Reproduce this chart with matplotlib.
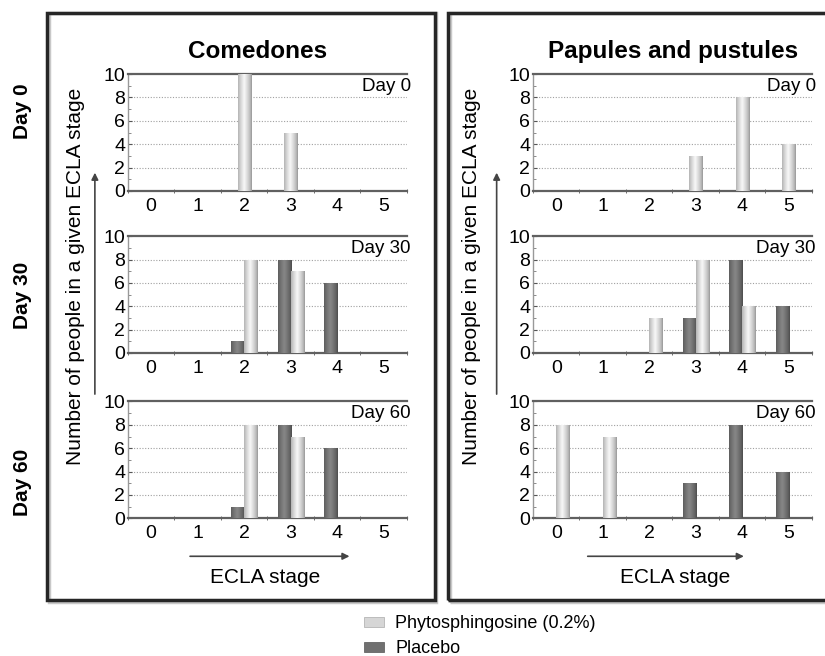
import numpy as np
import matplotlib
matplotlib.use("Agg")
import matplotlib.pyplot as plt
from matplotlib.patches import Rectangle, Patch

plt.rcParams['font.family'] = ['Liberation Sans', 'DejaVu Sans']

# ECLA stages on the x axis
stages = [0, 1, 2, 3, 4, 5]
stage_labels = ['0', '1', '2', '3', '4', '5']
y_ticks = [0, 2, 4, 6, 8, 10]

# Comedones (number of people per stage)
com_d0_phyto = [0, 0, 10, 5, 0, 0]
com_d30_phyto = [0, 0, 8, 7, 0, 0]
com_d30_placebo = [0, 0, 1, 8, 6, 0]
com_d60_phyto = [0, 0, 8, 7, 0, 0]
com_d60_placebo = [0, 0, 1, 8, 6, 0]

# Papules and pustules
pap_d0_phyto = [0, 0, 0, 3, 8, 4]
pap_d30_phyto = [0, 0, 3, 8, 4, 0]
pap_d30_placebo = [0, 0, 0, 3, 8, 4]
pap_d60_phyto = [8, 7, 0, 0, 0, 0]
pap_d60_placebo = [0, 0, 0, 3, 8, 4]

day_names = ['Day 0', 'Day 30', 'Day 60']
panel_titles = ['Comedones', 'Papules and pustules']
series_names = ['Phytosphingosine (0.2%)', 'Placebo']

BAR_W = 0.28
PHYTO_EDGE = np.array([150, 150, 150]) / 255.0
PHYTO_MID = np.array([248, 248, 248]) / 255.0
PLAC_EDGE = np.array([75, 75, 75]) / 255.0
PLAC_MID = np.array([135, 135, 135]) / 255.0


def gradient_img(edge, mid):
    # horizontal shading like the old excel cylinder look
    t = np.linspace(0, 1, 40)
    prof = np.clip(1 - np.abs(t - 0.45) / 0.55, 0, 1) ** 0.7
    img = edge[None, :] * (1 - prof[:, None]) + mid[None, :] * prof[:, None]
    return img[None, :, :]


def shaded_bars(ax, x, vals, edge, mid):
    bars = ax.bar(x, vals, width=BAR_W, color=mid, edgecolor=edge * 0.9,
                  linewidth=0.5, zorder=3)
    img = gradient_img(edge, mid)
    for b in bars:
        if b.get_height() <= 0:
            continue
        im = ax.imshow(img, extent=(b.get_x(), b.get_x() + b.get_width(),
                                    0, b.get_height()),
                       aspect='auto', zorder=3.5, interpolation='bilinear')
        im.set_clip_path(b)
    return bars


def draw_axes(ax, phyto, placebo, day):
    x = np.array(stages)
    if placebo is None:
        shaded_bars(ax, x, phyto, PHYTO_EDGE, PHYTO_MID)
    else:
        shaded_bars(ax, x - BAR_W / 2, placebo, PLAC_EDGE, PLAC_MID)
        shaded_bars(ax, x + BAR_W / 2, phyto, PHYTO_EDGE, PHYTO_MID)
    ax.set_xlim(-0.5, 5.5)
    ax.set_ylim(0, 10)
    ax.set_xticks(stages)
    ax.set_xticklabels(stage_labels)
    ax.set_xticks(np.arange(-0.5, 6.0, 1.0), minor=True)
    ax.set_yticks(y_ticks)
    ax.set_yticks(np.arange(1, 10, 1), minor=True)
    ax.tick_params(axis='x', which='major', length=0, labelsize=14, pad=5)
    ax.tick_params(axis='x', which='minor', length=3, direction='inout',
                   color='#555555')
    ax.tick_params(axis='y', which='major', length=3, direction='in',
                   labelsize=14, pad=2, color='#555555')
    ax.tick_params(axis='y', which='minor', length=2, direction='in',
                   color='#777777')
    for yy in [2, 4, 6, 8]:
        ax.axhline(yy, color='#a0a0a0', lw=0.8, ls=(0, (1, 1.5)), zorder=1)
    ax.spines['right'].set_visible(False)
    ax.spines['top'].set_color('#606060')
    ax.spines['top'].set_linewidth(1.6)
    ax.spines['bottom'].set_color('#606060')
    ax.spines['bottom'].set_linewidth(1.6)
    ax.spines['left'].set_color('#999999')
    ax.spines['left'].set_linewidth(1.0)
    ax.text(1.015, 0.97, day, transform=ax.transAxes, ha='right', va='top',
            fontsize=13.5, zorder=5)


fig = plt.figure(figsize=(8.25, 6.56), dpi=100)

# the two framed panels (grey shadow + dark frame)
fig.patches.append(Rectangle((0.059, 0.083), 0.470, 0.897, transform=fig.transFigure,
                             fill=False, ec='#c8c8c8', lw=2.5))
fig.patches.append(Rectangle((0.057, 0.085), 0.470, 0.895, transform=fig.transFigure,
                             fill=False, ec='#262626', lw=2.5))
fig.patches.append(Rectangle((0.545, 0.083), 0.50, 0.897, transform=fig.transFigure,
                             fill=False, ec='#c8c8c8', lw=2.5))
fig.patches.append(Rectangle((0.543, 0.085), 0.50, 0.895, transform=fig.transFigure,
                             fill=False, ec='#262626', lw=2.5))

rows_bottom = [0.709, 0.462, 0.210]
row_h = 0.178
cols_left = [0.155, 0.646]
col_w = 0.338

data = [
    [(com_d0_phyto, None), (com_d30_phyto, com_d30_placebo), (com_d60_phyto, com_d60_placebo)],
    [(pap_d0_phyto, None), (pap_d30_phyto, pap_d30_placebo), (pap_d60_phyto, pap_d60_placebo)],
]

for c in range(2):
    for r in range(3):
        ax = fig.add_axes([cols_left[c], rows_bottom[r], col_w, row_h])
        draw_axes(ax, data[c][r][0], data[c][r][1], day_names[r])

# panel titles
fig.text(0.312, 0.921, panel_titles[0], ha='center', va='center',
         fontsize=17.5, fontweight='bold')
fig.text(0.816, 0.921, panel_titles[1], ha='center', va='center',
         fontsize=17.5, fontweight='bold')

# row labels on the far left
for yy, name in zip([0.831, 0.550, 0.264], day_names):
    fig.text(0.027, yy, name, rotation=90, ha='center', va='center',
             fontsize=15, fontweight='bold')

# y label + arrow in both panels
for xl, xa in [(0.091, 0.115), (0.572, 0.602)]:
    fig.text(xl, 0.579, 'Number of people in a given ECLA stage', rotation=90,
             ha='center', va='center', fontsize=15)
    fig.add_artist(matplotlib.patches.FancyArrowPatch(
        (xa, 0.395), (xa, 0.741), transform=fig.transFigure,
        arrowstyle='-|>', mutation_scale=10, color='#444444', lw=1.2))

# x label + arrow in both panels
for xc, (xa0, xa1) in [(0.321, (0.227, 0.427)), (0.818, (0.709, 0.905))]:
    fig.text(xc, 0.119, 'ECLA stage', ha='center', va='center', fontsize=15)
    fig.add_artist(matplotlib.patches.FancyArrowPatch(
        (xa0, 0.152), (xa1, 0.152), transform=fig.transFigure,
        arrowstyle='-|>', mutation_scale=10, color='#444444', lw=1.2))

# legend below the panels
handles = [Patch(facecolor='#d6d6d6', edgecolor='#aaaaaa', lw=0.5),
           Patch(facecolor='#707070', edgecolor='#555555', lw=0.5)]
fig.legend(handles, series_names, loc='upper left', bbox_to_anchor=(0.433, 0.073),
           frameon=False, fontsize=13, handlelength=1.1, handleheight=0.45,
           handletextpad=0.6, labelspacing=0.45, borderaxespad=0)

fig.savefig('out.png', dpi=100)
